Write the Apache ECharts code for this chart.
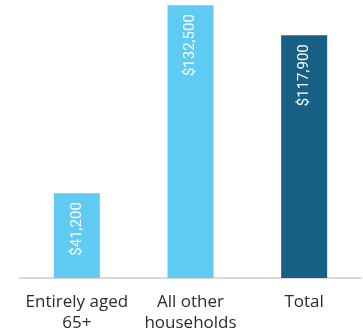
<!DOCTYPE html>
<html>
<head>
<meta charset="utf-8">
<script src="https://cdn.jsdelivr.net/npm/echarts@6/dist/echarts.min.js"></script>
<style>
  html, body { margin: 0; padding: 0; background: #fff; }
  #chart { width: 363px; height: 334px; }
</style>
</head>
<body>
<div id="chart"></div>
<script>
const categories = ['Entirely aged\n65+', 'All other\nhouseholds', 'Total']
const values = [41200, 132500, 117900]
const barColors = ['#5fcbf3', '#5fcbf3', '#175f84']

const chart = echarts.init(document.getElementById('chart'))

chart.setOption({
  animation: false,
  grid: { left: 20, right: 2, top: 0, bottom: 54 },
  xAxis: {
    type: 'category',
    data: categories,
    axisLine: { lineStyle: { color: '#d9d9d9', width: 2 } },
    axisTick: { show: false },
    axisLabel: {
      color: '#2b2b2b',
      fontFamily: 'Open Sans',
      fontSize: 17,
      lineHeight: 21,
      margin: 14,
      interval: 0
    }
  },
  yAxis: {
    type: 'value',
    min: 0,
    max: 135000,
    show: false
  },
  series: [{
    type: 'bar',
    barWidth: 46,
    data: values.map((v, i) => ({ value: v, itemStyle: { color: barColors[i] } })),
    label: {
      show: true,
      position: 'insideTop',
      rotate: 90,
      align: 'right',
      verticalAlign: 'middle',
      distance: 9,
      color: '#fff',
      fontFamily: 'Roboto',
      fontSize: 15,
      formatter: p => '$' + p.value.toLocaleString('en-US')
    }
  }]
})
</script>
</body>
</html>
